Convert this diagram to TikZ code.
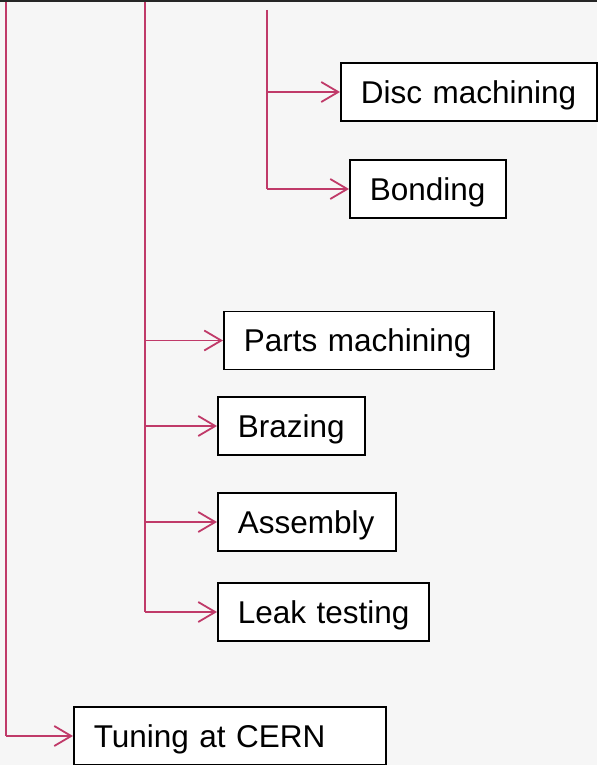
\documentclass[tikz,border=0pt]{standalone}
\usepackage{fontspec}
\setmainfont{Liberation Sans}
\usetikzlibrary{arrows.meta}
\definecolor{conncol}{RGB}{192,58,105}
\definecolor{bgcol}{RGB}{246,246,246}
\tikzset{
  stepbox/.style={draw=black, line width=1.6pt, fill=white, anchor=west,
    inner xsep=20pt, inner ysep=0pt, minimum height=58pt, align=left,
    text height=22.5pt, text depth=0pt,
    font=\fontsize{31.5}{36}\selectfont},
  conn/.style={draw=conncol, line width=1.8pt},
  arr/.style={conn, -{Straight Barb[length=17pt,width=20pt,line width=1.8pt]}}
}
\begin{document}
\begin{tikzpicture}[x=1pt,y=-1pt]
\useasboundingbox (0,0) rectangle (597,765);
\fill[bgcol] (0,0) rectangle (597,765);
\draw[black!85, line width=2.5pt] (0,1) -- (597,1);

\node[stepbox, text width=216pt] (disc) at (340,92) {\mbox{Disc machining}};
\node[stepbox, text width=116pt] (bond) at (349,189) {\mbox{Bonding}};
\node[stepbox, text width=230pt] (parts) at (223,340.5) {\mbox{Parts machining}};
\node[stepbox, text width=107pt] (braz) at (217,426) {\mbox{Brazing}};
\node[stepbox, text width=138pt] (assy) at (217,522) {\mbox{Assembly}};
\node[stepbox, text width=171pt] (leak) at (217,612) {\mbox{Leak testing}};
\node[stepbox, text width=272pt] (tune) at (73,736) {\mbox{Tuning at CERN}};

\coordinate (c1) at (6,2);
\coordinate (c2) at (145,2);
\coordinate (c3) at (267,10);

\draw[conn] (c3) -- (c3 |- bond.west);
\draw[arr] (c3 |- disc.west) -- (disc.west);
\draw[arr] (c3 |- bond.west) -- (bond.west);

\draw[conn] (c2) -- (c2 |- leak.west);
\draw[arr] (c2 |- parts.west) -- (parts.west);
\draw[arr] (c2 |- braz.west) -- (braz.west);
\draw[arr] (c2 |- assy.west) -- (assy.west);
\draw[arr] (c2 |- leak.west) -- (leak.west);

\draw[conn] (c1) -- (c1 |- tune.west);
\draw[arr] (c1 |- tune.west) -- (tune.west);
\end{tikzpicture}
\end{document}
